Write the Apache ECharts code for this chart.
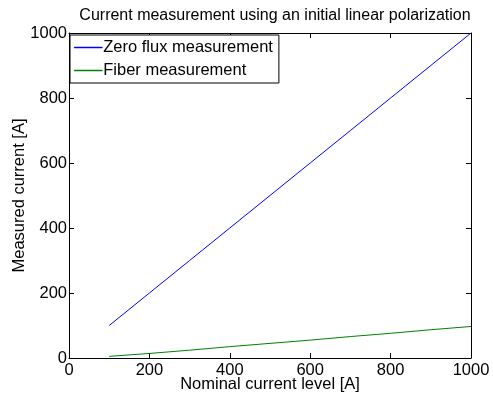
<!DOCTYPE html>
<html>
<head>
<meta charset="utf-8">
<script src="https://cdn.jsdelivr.net/npm/echarts@6/dist/echarts.min.js"></script>
<style>
  html, body { margin: 0; padding: 0; background: #fff; }
  #chart { width: 493px; height: 405px; }
</style>
</head>
<body>
<div id="chart"></div>
<script>
// nominal current levels [A]
const nominal = [100, 200, 300, 400, 500, 600, 700, 800, 900, 1000];
const zeroFlux = [100, 200, 300, 400, 500, 600, 700, 800, 900, 1000];
const fiber = [5, 14, 24, 35, 45, 55, 66, 76, 87, 97];

const font = "Liberation Sans, Arial, sans-serif";
const blue = "#0000ff";
const green = "#008000";

function pairs(xs, ys) {
  return xs.map((x, i) => [x, ys[i]]);
}

const chart = echarts.init(document.getElementById("chart"));

const baseAxis = {
  type: "value",
  min: 0,
  max: 1000,
  interval: 200,
  axisLine: { show: true, onZero: false, lineStyle: { color: "#000", width: 1 } },
  axisTick: { show: true, inside: true, length: 5, lineStyle: { color: "#000" } },
  splitLine: { show: false },
  axisLabel: { color: "#000", fontSize: 16.5, fontFamily: font, formatter: v => String(v) }
};

chart.setOption({
  animation: false,
  title: {
    text: "Current measurement using an initial linear polarization",
    left: 270,
    textAlign: "center",
    top: 3,
    textStyle: { fontSize: 16, fontWeight: "normal", color: "#000", fontFamily: font }
  },
  grid: { left: 69, right: 22, top: 33, bottom: 47, containLabel: false, outerBoundsMode: "none" },
  legend: {
    orient: "vertical",
    left: 70,
    top: 35,
    backgroundColor: "#fff",
    borderColor: "#000",
    borderWidth: 1,
    borderRadius: 0,
    padding: [4, 6, 4, 4],
    itemGap: 6,
    itemWidth: 28,
    itemHeight: 1,
    icon: "path://M0,0H28V1H0Z",
    textStyle: { fontSize: 16.5, color: "#000", fontFamily: font, padding: [0, 0, 0, -4] },
    data: [
      { name: "Zero flux measurement", itemStyle: { color: blue, borderColor: blue, borderWidth: 0.5 } },
      { name: "Fiber measurement", itemStyle: { color: green, borderColor: green, borderWidth: 0.5 } }
    ]
  },
  xAxis: [
    Object.assign({}, baseAxis, {
      position: "bottom",
      name: "Nominal current level [A]",
      nameLocation: "middle",
      nameGap: 18,
      nameMoveOverlap: false,
      nameTextStyle: { fontSize: 16.5, color: "#000", fontFamily: font },
      axisLabel: Object.assign({}, baseAxis.axisLabel, { margin: 4 })
    }),
    Object.assign({}, baseAxis, { position: "top", axisLabel: { show: false } })
  ],
  yAxis: [
    Object.assign({}, baseAxis, {
      position: "left",
      name: "Measured current [A]",
      nameLocation: "middle",
      nameGap: 41,
      nameMoveOverlap: false,
      nameTextStyle: { fontSize: 16.5, color: "#000", fontFamily: font },
      axisLabel: Object.assign({}, baseAxis.axisLabel, { margin: 2 })
    }),
    Object.assign({}, baseAxis, { position: "right", axisLabel: { show: false } })
  ],
  series: [
    {
      name: "Zero flux measurement",
      type: "line",
      data: pairs(nominal, zeroFlux),
      showSymbol: false,
      itemStyle: { color: blue },
      lineStyle: { color: blue, width: 1 }
    },
    {
      name: "Fiber measurement",
      type: "line",
      data: pairs(nominal, fiber),
      showSymbol: false,
      itemStyle: { color: green },
      lineStyle: { color: green, width: 1 }
    }
  ]
});
</script>
</body>
</html>
